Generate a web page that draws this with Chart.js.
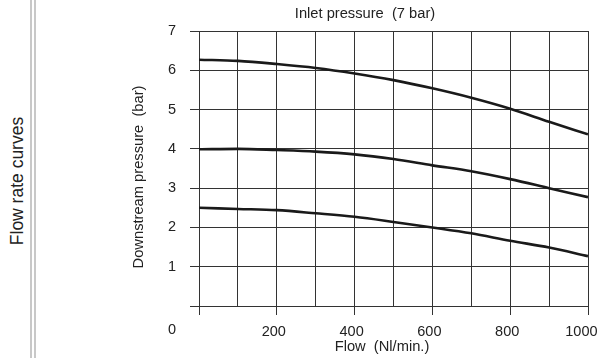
<!DOCTYPE html>
<html>
<head>
<meta charset="utf-8">
<script src="https://cdn.jsdelivr.net/npm/chart.js@4"></script>
<style>
    html, body { margin: 0; padding: 0; background: #fff; }
    body { width: 598px; height: 358px; overflow: hidden; position: relative; font-family: "Liberation Sans", Arial, sans-serif; }
    .side-title {
        position: absolute; left: 17px; top: 181px;
        transform: translate(-50%, -50%) rotate(-90deg);
        white-space: nowrap; font-size: 17.5px; color: #222;
    }
    .rule { position: absolute; top: 0; bottom: 0; width: 2px; background: #c8c8c8; }
    #chart-wrap { position: absolute; left: 0; top: 0; }
</style>
</head>
<body>
<div class="side-title">Flow rate curves</div>
<div class="rule" style="left:30px"></div>
<div class="rule" style="left:34px"></div>
<div id="chart-wrap"><canvas id="flow-chart" width="620" height="358"></canvas></div>
<script>
// flow (Nl/min.) and downstream pressure (bar)
const flowValues = [0, 100, 200, 300, 400, 500, 600, 700, 800, 900, 1000];
const highCurve = [6.27, 6.24, 6.16, 6.06, 5.92, 5.75, 5.54, 5.30, 5.02, 4.69, 4.37];
const midCurve = [3.99, 4.00, 3.97, 3.93, 3.86, 3.74, 3.58, 3.43, 3.23, 3.00, 2.77];
const lowCurve = [2.50, 2.47, 2.44, 2.36, 2.27, 2.14, 2.00, 1.85, 1.66, 1.49, 1.27];

const chartTitle = 'Inlet pressure  (7 bar)';
const xTitle = 'Flow  (Nl/min.)';
const yTitle = 'Downstream pressure  (bar)';
const originLabel = '0';

const FONT = '"Liberation Sans", Arial, sans-serif';
const GRID = '#333';
const TEXT = '#222';

function toPoints(values) {
    return flowValues.map((x, i) => ({ x: x, y: values[i] }));
}

function curve(label, values) {
    return {
        label: label,
        data: toPoints(values),
        borderColor: '#1a1a1a',
        borderWidth: 2.6,
        pointRadius: 0,
        cubicInterpolationMode: 'monotone',
        fill: false
    };
}

// titles and the shared origin label
const textPlugin = {
    id: 'textPlugin',
    afterDraw(chart) {
        const ctx = chart.ctx;
        ctx.save();
        ctx.fillStyle = TEXT;
        ctx.font = '14.7px ' + FONT;
        ctx.textBaseline = 'middle';
        ctx.textAlign = 'center';
        ctx.fillText(chartTitle, 365, 14);
        ctx.fillText(xTitle, 382, 347);
        ctx.font = '14.5px ' + FONT;
        ctx.textAlign = 'right';
        ctx.fillText(originLabel, 176, 330);
        ctx.font = '14.7px ' + FONT;
        ctx.translate(139, 177);
        ctx.rotate(-Math.PI / 2);
        ctx.textAlign = 'center';
        ctx.fillText(yTitle, 0, 0);
        ctx.restore();
    }
};

document.addEventListener('DOMContentLoaded', () => {
    const ctx = document.getElementById('flow-chart').getContext('2d');
    new Chart(ctx, {
        type: 'line',
        data: {
            datasets: [
                curve('High', highCurve),
                curve('Mid', midCurve),
                curve('Low', lowCurve)
            ]
        },
        options: {
            responsive: false,
            animation: false,
            layout: { padding: { left: 0, right: 32, top: 31, bottom: 0 } },
            plugins: {
                legend: { display: false },
                tooltip: { enabled: false }
            },
            scales: {
                x: {
                    type: 'linear',
                    min: 0,
                    max: 1000,
                    afterFit(scale) { scale.height = 52; },
                    border: { display: true, color: GRID, width: 1 },
                    grid: {
                        color: GRID,
                        lineWidth: 1,
                        tickLength: 9,
                        tickColor: (c) => (c.tick && c.tick.value % 200 === 0) ? GRID : 'rgba(0,0,0,0)'
                    },
                    ticks: {
                        stepSize: 100,
                        padding: 8,
                        labelOffset: -3,
                        maxRotation: 0,
                        autoSkip: false,
                        color: TEXT,
                        font: { size: 14.5, family: FONT },
                        // trailing en space keeps the last label inside the page edge
                        callback: (v) => v === 1000 ? '1000\u2002' : ((v !== 0 && v % 200 === 0) ? String(v) : '')
                    }
                },
                y: {
                    min: 0,
                    max: 7,
                    afterFit(scale) { scale.width = 199; },
                    border: { display: true, color: GRID, width: 1 },
                    grid: {
                        color: GRID,
                        lineWidth: 1,
                        tickLength: 9,
                        tickColor: GRID
                    },
                    ticks: {
                        stepSize: 1,
                        padding: 14,
                        color: TEXT,
                        font: { size: 14.5, family: FONT },
                        callback: (v) => v === 0 ? '' : String(v)
                    }
                }
            }
        },
        plugins: [textPlugin]
    });
});
</script>
</body>
</html>
